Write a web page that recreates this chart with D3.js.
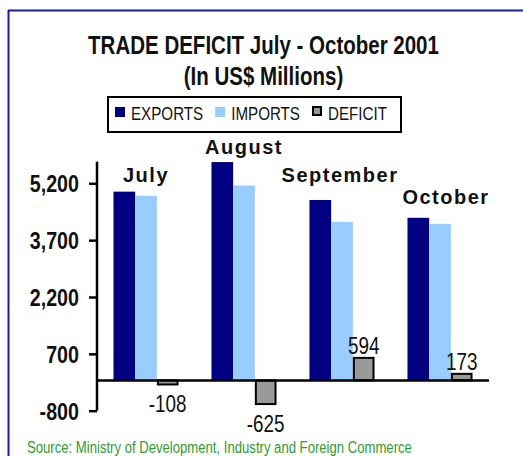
<!DOCTYPE html>
<html><head><meta charset="utf-8">
<script src="https://cdn.jsdelivr.net/npm/d3@7"></script>
<style>
html,body{margin:0;padding:0;background:#fff;}
svg{display:block;}
</style></head>
<body>
<svg id="chart" width="523" height="456"></svg>
<script>
const months = ["July", "August", "September", "October"];
const exportsVals = [4980, 5760, 4760, 4290];
const importsVals = [4870, 5140, 4180, 4130];
const deficitVals = [-108, -625, 594, 173];
const tickVals = [-800, 700, 2200, 3700, 5200];
const seriesNames = ["EXPORTS", "IMPORTS", "DEFICIT"];
const seriesKeys = ["exports", "imports", "deficit"];
const colors = {exports: "#000080", imports: "#99ccff", deficit: "#999999"};

const sans = "'Liberation Sans', Arial, sans-serif";
const NX = 0.82; // narrow condensing factor

const svg = d3.select("#chart");
const fmt = v => d3.format(",")(v).replace("\u2212", "-");

// narrow text helper
function ntext(parent, x, y, str, o) {
  o = o || {};
  const t = parent.append("text")
    .attr("transform", `translate(${x},${y}) scale(${NX},1)`)
    .attr("x", 0).attr("y", 0)
    .attr("text-anchor", o.anchor || "start")
    .attr("font-family", sans)
    .attr("font-weight", o.weight || "normal")
    .attr("font-size", o.size || 16)
    .attr("fill", o.fill || "#111")
    .text(str);
  return t;
}

// frame
svg.append("line").attr("x1", 8).attr("x2", 523).attr("y1", 10.5).attr("y2", 10.5)
  .attr("stroke", "#1c1c9c").attr("stroke-width", 2);
svg.append("line").attr("x1", 8.5).attr("x2", 8.5).attr("y1", 10).attr("y2", 456)
  .attr("stroke", "#1c1c9c").attr("stroke-width", 2);

// title
ntext(svg, 263.5, 54, "TRADE DEFICIT July - October 2001", {anchor: "middle", weight: "bold", size: 25});
ntext(svg, 263.5, 85, "(In US$ Millions)", {anchor: "middle", weight: "bold", size: 25});

// legend
svg.append("rect").attr("x", 108).attr("y", 97).attr("width", 293).attr("height", 35)
  .attr("fill", "#fff").attr("stroke", "#000").attr("stroke-width", 2);
let lx = 115;
seriesKeys.forEach((k, i) => {
  const isDef = k === "deficit";
  svg.append("rect").attr("x", lx + (isDef ? 1 : 0)).attr("y", isDef ? 107 : 107)
    .attr("width", isDef ? 8 : 10).attr("height", isDef ? 8 : 10)
    .attr("fill", colors[k]).attr("stroke", isDef ? "#000" : "none").attr("stroke-width", 2);
  const t = ntext(svg, lx + 16, 120, seriesNames[i], {size: 18.5});
  lx = lx + 16 + t.node().getComputedTextLength() * NX + 12;
});

// scales
const x0 = d3.scaleBand().domain(months).range([97, 489]).paddingInner(0).paddingOuter(0);
const x1 = d3.scaleBand().domain(seriesKeys).range([0, x0.bandwidth()]).paddingInner(0).paddingOuter(0.76);
const y = d3.scaleLinear().domain([-800, 5770]).range([410.7, 161.7]);

const rows = months.map((m, i) => ({month: m, exports: exportsVals[i], imports: importsVals[i], deficit: deficitVals[i]}));

// bars
const g = svg.append("g");
rows.forEach(r => {
  seriesKeys.forEach(k => {
    const v = r[k];
    const isDef = k === "deficit";
    const xx = x0(r.month) + x1(k);
    const y0 = y(0), yv = y(v);
    g.append("rect")
      .attr("x", xx + (isDef ? 1 : 0))
      .attr("y", Math.min(y0, yv))
      .attr("width", x1.bandwidth() - (isDef ? 2 : 0))
      .attr("height", Math.abs(yv - y0))
      .attr("fill", colors[k])
      .attr("stroke", isDef ? "#000" : "none")
      .attr("stroke-width", 2);
  });
});

// axis
const axis = d3.axisLeft(y).tickValues(tickVals).tickSize(8).tickPadding(9).tickFormat(fmt);
const ax = svg.append("g").attr("transform", "translate(97,0)").call(axis);
ax.select(".domain").attr("stroke", "#000").attr("stroke-width", 2.5).attr("d", `M0,${y(5770)}V${y(-800)}`);
ax.selectAll(".tick line").attr("stroke", "#000").attr("stroke-width", 2.5);
ax.selectAll(".tick text")
  .attr("x", 0).attr("dy", "0.36em")
  .attr("transform", `translate(-18,0) scale(${NX},1)`)
  .attr("font-family", sans).attr("font-weight", "bold")
  .attr("font-size", 24).attr("fill", "#111");

// zero line
svg.append("line").attr("x1", 97).attr("x2", 489).attr("y1", y(0)).attr("y2", y(0))
  .attr("stroke", "#000").attr("stroke-width", 2.5);

// month labels
const labelStyle = [[0, 10], [0, 8], [-2, 18], [6, 14]];
rows.forEach((r, i) => {
  svg.append("text")
    .attr("x", x0(r.month) + x0.bandwidth() / 2 + labelStyle[i][0])
    .attr("y", y(r.exports) - labelStyle[i][1])
    .attr("text-anchor", "middle")
    .attr("font-family", sans).attr("font-weight", "bold").attr("font-size", 20)
    .attr("letter-spacing", 1.5).attr("fill", "#111")
    .text(r.month);
});

// deficit value labels
rows.forEach(r => {
  const cx = x0(r.month) + x1("deficit") + x1.bandwidth() / 2;
  const v = r.deficit;
  ntext(svg, cx, v >= 0 ? y(v) - 4 : y(v) + 28, fmt(v), {anchor: "middle", size: 23});
});

// source
ntext(svg, 27, 453, "Source: Ministry of Development, Industry and Foreign Commerce", {size: 16, fill: "#339933"});
</script>
</body></html>
